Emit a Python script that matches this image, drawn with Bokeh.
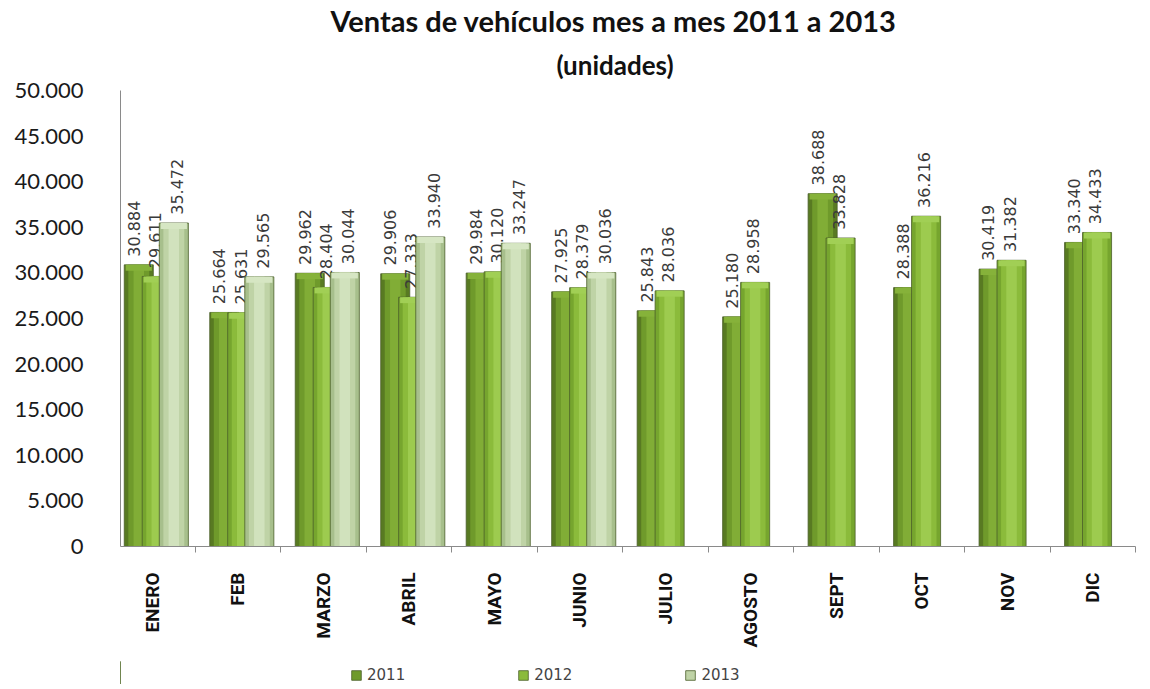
from bokeh.plotting import figure
from bokeh.layouts import column
from bokeh.models import (ColumnDataSource, Range1d, FixedTicker, Title, Legend,
                          LegendItem, CustomJSTickFormatter)
from bokeh.core.properties import value
from bokeh.embed import file_html
from bokeh.resources import INLINE
import math

months = ["ENERO", "FEB", "MARZO", "ABRIL", "MAYO", "JUNIO", "JULIO",
          "AGOSTO", "SEPT", "OCT", "NOV", "DIC"]
sales_2011 = [30884, 25664, 29962, 29906, 29984, 27925, 25843, 25180, 38688, 28388, 30419, 33340]
sales_2012 = [29611, 25631, 28404, 27333, 30120, 28379, 28036, 28958, 33828, 36216, 31382, 34433]
sales_2013 = [35472, 29565, 30044, 33940, 33247, 30036]
years = ["2011", "2012", "2013"]
y_ticks = [0, 5000, 10000, 15000, 20000, 25000, 30000, 35000, 40000, 45000, 50000]


def fmt(v):
    return f"{v:,}".replace(",", ".")


p = figure(frame_width=1015, frame_height=456, x_range=Range1d(-0.374, 11.5),
           y_range=Range1d(0, 50000), output_backend="svg", toolbar_location=None,
           min_border_left=120, min_border_right=4, min_border_top=0, min_border_bottom=115,
           title=None, background_fill_color="white", border_fill_color="white")
p.outline_line_color = None
p.xgrid.visible = False
p.ygrid.visible = False

# legend strip below the chart (its own small canvas so the legend is not clipped)
leg = figure(width=1139, height=23, output_backend="svg", toolbar_location=None,
             min_border=0, x_axis_location=None, y_axis_location=None,
             x_range=Range1d(0, 1), y_range=Range1d(0, 1),
             title=None, background_fill_color="white", border_fill_color="white")
leg.outline_line_color = None
leg.xgrid.visible = False
leg.ygrid.visible = False

series = [
    # (values, bar offset, label offset, edge colour, mid colour, light colour)
    (sales_2011, -0.16, -0.22, "#587a22", "#6f9a2b", "#86b23a"),
    (sales_2012, 0.05, 0.03, "#76a52e", "#8bbb3b", "#a1cf55"),
    (sales_2013, 0.25, 0.29, "#a7bf8c", "#bfd3a6", "#d6e6c3"),
]
W = 0.34
legend_items = []
for (vals, off, loff, c_edge, c_mid, c_light), yr in zip(series, years):
    xs = [i + off for i in range(len(vals))]
    src = ColumnDataSource(dict(
        x=xs, top=vals,
        cap_bottom=[v - 650 for v in vals],
        lx=[i + loff for i in range(len(vals))],
        ly=[v + 900 for v in vals],
        lab=[fmt(v) for v in vals]))
    p.vbar(x="x", top="top", bottom=0, width=W, source=src,
           fill_color=c_edge, line_color="#4a5e2a", line_width=0.8)
    p.vbar(x="x", top="top", bottom=0, width=W * 0.72, source=src,
           fill_color=c_mid, line_color=None)
    p.vbar(x="x", top="top", bottom=0, width=W * 0.36, source=src,
           fill_color=c_light, line_color=None, fill_alpha=0.8)
    p.vbar(x="x", top="top", bottom="cap_bottom", width=W * 0.9, source=src,
           fill_color=c_light, line_color=None)
    p.text(x="lx", y="ly", text="lab", source=src, angle=math.pi / 2,
           text_align="left", text_baseline="middle", text_font=value("DejaVu Sans"),
           text_font_size="16px", text_color="#3a3a3a")
    # legend proxy: one bar kept outside the strip's visible range
    proxy = leg.vbar(x=[-5], top=[1], width=0.1, fill_color=c_mid,
                     line_color="#4a5e2a", line_width=0.8)
    legend_items.append(LegendItem(label=yr, renderers=[proxy]))

# axes
p.yaxis.ticker = FixedTicker(ticks=y_ticks)
p.yaxis.formatter = CustomJSTickFormatter(
    code="return tick.toString().replace(/\\B(?=(\\d{3})+(?!\\d))/g, '.');")
p.yaxis.major_label_text_font = "Lato"
p.yaxis.major_label_text_font_size = "22px"
p.yaxis.major_label_text_color = "#1a1a1a"
p.yaxis.major_tick_line_color = None
p.yaxis.minor_tick_line_color = None
p.yaxis.major_label_standoff = 31
p.yaxis.axis_line_color = "#8a8a8a"

p.xaxis.ticker = FixedTicker(ticks=list(range(len(months))),
                             minor_ticks=[i + 0.5 for i in range(-1, len(months))])
p.xaxis.major_label_overrides = {i: m for i, m in enumerate(months)}
p.xaxis.major_label_orientation = math.pi / 2
p.xaxis.major_label_text_font = "Roboto"
p.xaxis.major_label_text_font_style = "bold"
p.xaxis.major_label_text_font_size = "19px"
p.xaxis.major_label_text_color = "#111111"
p.xaxis.major_tick_line_color = None
p.xaxis.minor_tick_line_color = "#8a8a8a"
p.xaxis.minor_tick_out = 6
p.xaxis.minor_tick_in = 0
p.xaxis.major_label_standoff = 20
p.xaxis.axis_line_color = "#8a8a8a"

# titles (second added sits above the first)
p.add_layout(Title(text="(unidades)", align="left", offset=436, text_font="Lato",
                   text_font_size="26px", text_font_style="bold",
                   standoff=19, text_color="#111111"), "above")
p.add_layout(Title(text="Ventas de vehículos mes a mes 2011 a  2013", align="left",
                   offset=210, text_font="Lato", text_font_size="29px",
                   text_font_style="bold", standoff=0, text_color="#111111"), "above")

legend = Legend(items=legend_items, orientation="horizontal", location=(230, 0),
                spacing=112, glyph_width=12, glyph_height=12, label_standoff=5,
                label_text_font="DejaVu Sans", label_text_font_size="15px",
                border_line_color=None, padding=2, margin=0, background_fill_alpha=0)
leg.add_layout(legend, "center")

layout = column(p, leg, spacing=0)
open("out.html", "w").write(file_html(layout, INLINE))
